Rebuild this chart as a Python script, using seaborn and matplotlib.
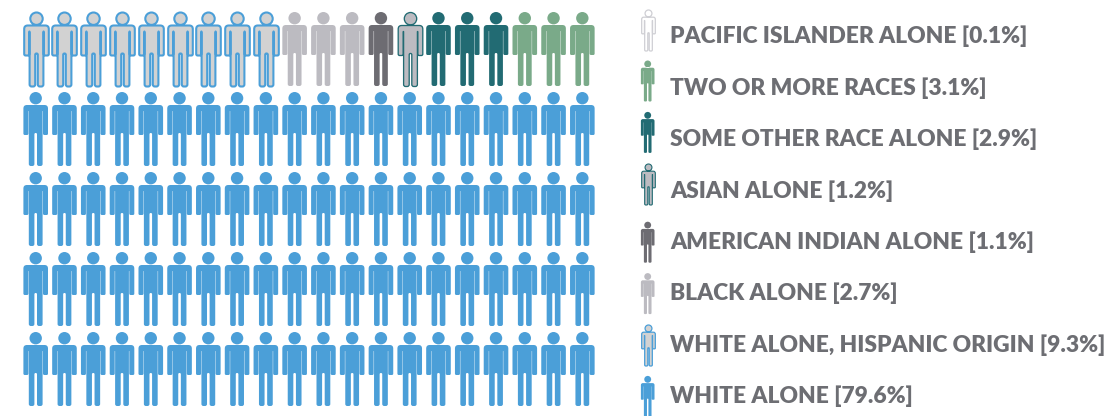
import numpy as np
import pandas as pd
import matplotlib.pyplot as plt
import seaborn as sns
from matplotlib.path import Path

# grid order, one figure = one percent
grid_groups = ['WHITE ALONE, HISPANIC ORIGIN', 'BLACK ALONE', 'AMERICAN INDIAN ALONE',
               'ASIAN ALONE', 'SOME OTHER RACE ALONE', 'TWO OR MORE RACES', 'WHITE ALONE']
grid_counts = [9, 3, 1, 1, 3, 3, 80]

legend_groups = ['PACIFIC ISLANDER ALONE', 'TWO OR MORE RACES', 'SOME OTHER RACE ALONE', 'ASIAN ALONE',
                 'AMERICAN INDIAN ALONE', 'BLACK ALONE', 'WHITE ALONE, HISPANIC ORIGIN', 'WHITE ALONE']
legend_shares = [0.1, 3.1, 2.9, 1.2, 1.1, 2.7, 9.3, 79.6]

# fill, edge, edge width in the grid (pt), edge width in the legend (pt)
styles = {
    'PACIFIC ISLANDER ALONE': ('#ffffff', '#cfcfd4', 0.9, 0.9),
    'TWO OR MORE RACES': ('#7aaa89', 'none', 0, 0),
    'SOME OTHER RACE ALONE': ('#226b73', 'none', 0, 0),
    'ASIAN ALONE': ('#bcbbc1', '#226b73', 0.95, 0.8),
    'AMERICAN INDIAN ALONE': ('#6d6c72', 'none', 0, 0),
    'BLACK ALONE': ('#bcbbc1', 'none', 0, 0),
    'WHITE ALONE, HISPANIC ORIGIN': ('#d2d2d2', '#4b9fd8', 1.5, 0.9),
    'WHITE ALONE': ('#4b9fd8', 'none', 0, 0),
}

W, H, DPI = 1118, 416, 100
N_COLS = 20
COL_PX, ROW_PX = 28.77, 80.0
FIRST_X, FIRST_Y = 35.7, 49.0
LEG_X, LEG_TEXT_X, LEG_FIRST_Y, LEG_STEP = 647.7, 670.0, 34.6, 51.4
TEXT_COLOR = '#6d6e73'


def rounded(points):
    # closed polygon from (x, y, corner radius)
    verts, codes = [], []
    n = len(points)
    for i, (x, y, r) in enumerate(points):
        p = np.array([x, y])
        a = np.array(points[i - 1][:2])
        b = np.array(points[(i + 1) % n][:2])
        da = (a - p) / np.linalg.norm(a - p)
        db = (b - p) / np.linalg.norm(b - p)
        verts.append(p + da * r)
        codes.append(Path.MOVETO if i == 0 else Path.LINETO)
        verts += [p, p + db * r]
        codes += [Path.CURVE3, Path.CURVE3]
    verts.append(verts[0])
    codes.append(Path.CLOSEPOLY)
    return Path(verts, codes)


def person_marker():
    # px units, 74 tall
    right = [(12.3, 24, 3.5), (12.3, -6, 1.4), (7.3, -6, 1.4), (7.3, 18, 0.2), (6.9, 18, 0.2),
             (6.9, -37, 2.0), (1.3, -37, 2.0), (1.3, -4, 1.2)]
    left = [(-x, y, r) for x, y, r in reversed(right)]
    body = rounded(right + left)
    head = Path.circle((0, 30.8), 6.2)
    return Path.make_compound_path(head, body)


def size_for(px):
    return (px * 72 / DPI) ** 2


sns.set_style('white')
plt.rcParams['font.family'] = ['Lato', 'DejaVu Sans']

person = person_marker()
fig = plt.figure(figsize=(W / DPI, H / DPI), dpi=DPI)

# grid axes: data units are columns and rows
ax = fig.add_axes([0, 0, 600 / W, 1])
names = np.repeat(grid_groups, grid_counts)
people = pd.DataFrame({'group': names})
people['col'] = np.arange(len(people)) % N_COLS
people['row'] = np.arange(len(people)) // N_COLS

for name in grid_groups:
    fill, edge, lw, _ = styles[name]
    sns.scatterplot(data=people[people['group'] == name], x='col', y='row', marker=person,
                    s=size_for(74), color=fill, edgecolor=edge, linewidth=lw, legend=False, ax=ax)
ax.set_xlim(-FIRST_X / COL_PX, (600 - FIRST_X) / COL_PX)
ax.set_ylim((H - FIRST_Y) / ROW_PX, -FIRST_Y / ROW_PX)
ax.axis('off')

# legend axes: y is the legend rank
ax2 = fig.add_axes([600 / W, 0, 518 / W, 1])
legend_df = pd.DataFrame({'group': legend_groups, 'share': legend_shares})
legend_df['rank'] = np.arange(len(legend_df))
# icons sit a little above the text in the top half, below it in the bottom half
legend_df['icon_y'] = legend_df['rank'] + np.where(legend_df['rank'] < 4, -5.0, 2.0) / LEG_STEP
legend_df['icon_x'] = LEG_X

for _, row in legend_df.iterrows():
    fill, edge, _, lw = styles[row['group']]
    sns.scatterplot(x=[row['icon_x']], y=[row['icon_y']], marker=person, s=size_for(41), color=fill,
                    edgecolor=edge, linewidth=lw, legend=False, ax=ax2)
    ax2.text(LEG_TEXT_X, row['rank'], f"{row['group']} [{row['share']}%]", color=TEXT_COLOR,
             fontsize=16.42, fontweight=800, ha='left', va='center_baseline')
ax2.set_xlim(600, W)
ax2.set_ylim((H - LEG_FIRST_Y) / LEG_STEP, -LEG_FIRST_Y / LEG_STEP)
ax2.axis('off')

fig.savefig('out.png', dpi=DPI, facecolor='white')
